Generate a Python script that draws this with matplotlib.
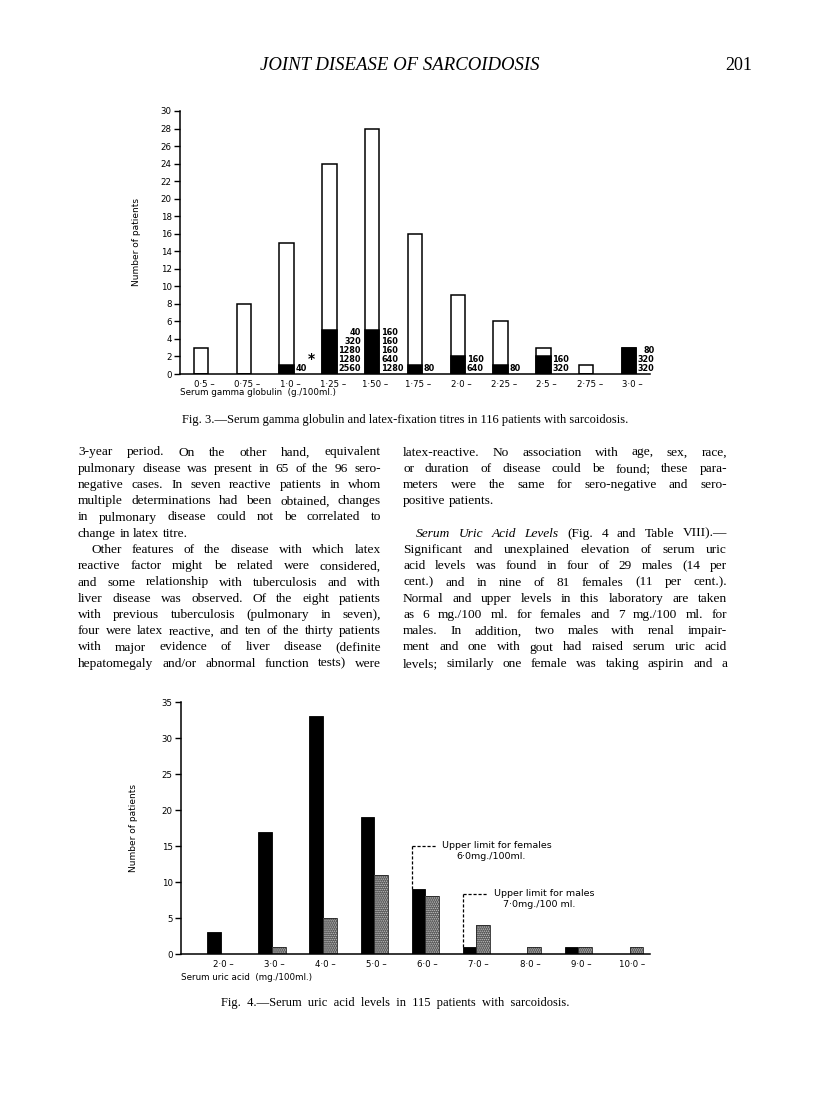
import matplotlib

matplotlib.use("Agg")
import matplotlib.pyplot as plt
from matplotlib.patches import Rectangle
from matplotlib.font_manager import FontProperties

W, H = 816, 1113

# Fig. 3 -- serum gamma globulin
gamma_bins = ["0·5 –", "0·75 –", "1·0 –", "1·25 –", "1·50 –", "1·75 –",
              "2·0 –", "2·25 –", "2·5 –", "2·75 –", "3·0 –"]
gamma_total = [3, 8, 15, 24, 28, 16, 9, 6, 3, 1, 3]
gamma_positive = [0, 0, 1, 5, 5, 1, 2, 1, 2, 0, 3]
gamma_titres = [[], [], ["40"], ["40", "320", "1280", "1280", "2560"],
                ["160", "160", "160", "640", "1280"], ["80"], ["160", "640"],
                ["80"], ["160", "320"], [], ["80", "320", "320"]]

# Fig. 4 -- serum uric acid
uric_bins = ["2·0 –", "3·0 –", "4·0 –", "5·0 –", "6·0 –", "7·0 –",
             "8·0 –", "9·0 –", "10·0 –"]
uric_female = [3, 17, 33, 19, 9, 1, 0, 1, 0]
uric_male = [0, 1, 5, 11, 8, 4, 1, 1, 1]
female_limit = "6·0 –"
male_limit = "7·0 –"

SANS = "DejaVu Sans"
SERIF = "Liberation Serif"
MALE_FILL = "#555555"
MALE_DOTS = "#c8c8c8"


def px_rect(x0, y0, x1, y1):
    return [x0 / W, 1 - y1 / H, (x1 - x0) / W, (y1 - y0) / H]


def style_axis(ax):
    for side in ("top", "right"):
        ax.spines[side].set_visible(False)
    for side in ("left", "bottom"):
        ax.spines[side].set_linewidth(1.1)
    ax.tick_params(axis="y", direction="out", length=4, width=1.0, pad=2,
                   labelsize=6.2)
    ax.tick_params(axis="x", length=0, pad=4, labelsize=6.2)
    for label in ax.get_xticklabels() + ax.get_yticklabels():
        label.set_family(SANS)


fig = plt.figure(figsize=(W / 100, H / 100), dpi=100)
page = fig.add_axes([0, 0, 1, 1])
page.set_xlim(0, W)
page.set_ylim(H, 0)
page.axis("off")

# ---------------- Fig. 3 ----------------
ax3 = fig.add_axes(px_rect(180, 111, 650, 374))
x3 = list(range(len(gamma_bins)))
w3 = 0.34
ax3.bar(x3, gamma_total, w3, color="white", edgecolor="black", linewidth=1.1)
ax3.bar(x3, gamma_positive, w3, color="black", edgecolor="black", linewidth=1.1)
ax3.set_xlim(-0.49, 10.49)
ax3.set_ylim(0, 30)
ax3.set_yticks(range(0, 31, 2))
ax3.set_xticks([x + 0.08 for x in x3])
ax3.set_xticklabels(gamma_bins)
style_axis(ax3)
ax3.set_ylabel("Number of patients", family=SANS, fontsize=6.5, labelpad=14)
ax3.set_xlabel("Serum gamma globulin  (g./100ml.)", family=SANS, fontsize=6.3)
ax3.xaxis.set_label_coords(0.0, -0.052)
ax3.xaxis.label.set_horizontalalignment("left")

right_aligned = {3, 8, 10}
for x, titres in zip(x3, gamma_titres):
    if not titres:
        continue
    ax3.text(x + w3 / 2 + 0.04, 0.12, "\n".join(titres), ha="left", va="bottom",
             multialignment="right" if x in right_aligned else "left",
             family=SANS, fontsize=5.9, fontweight="bold", linespacing=1.0)
ax3.text(2 + w3 / 2 + 0.42, 0.95, "*", ha="center", va="bottom", family=SANS,
         fontsize=10, fontweight="bold")

# legend of fig. 3
page.add_patch(Rectangle((492, 143), 15, 16, facecolor="black",
                         edgecolor="black", linewidth=1.0))
page.add_patch(Rectangle((492, 172), 15, 16, facecolor="white",
                         edgecolor="black", linewidth=1.0))
page.text(518, 151, "Patients with positive\nlatex fixation test", ha="left",
          va="center", family=SANS, fontsize=6.2, linespacing=0.95)
page.text(518, 181, "Patients with negative\nlatex fixation test", ha="left",
          va="center", family=SANS, fontsize=6.2, linespacing=0.95)
page.text(500, 210, "*", ha="center", va="center", family=SANS, fontsize=10,
          fontweight="bold")
page.text(518, 207, "Reciprocal of titre", ha="left", va="center",
          family=SANS, fontsize=6.2)

# ---------------- Fig. 4 ----------------
ax4 = fig.add_axes(px_rect(181, 702, 650, 954))
x4 = list(range(len(uric_bins)))
w4 = 0.266
male_x = [x + w4 / 2 for x in x4]
ax4.bar([x - w4 / 2 for x in x4], uric_female, w4, color="black",
        edgecolor="black", linewidth=0.6)
plt.rcParams["hatch.linewidth"] = 0.7
ax4.bar(male_x, uric_male, w4, facecolor=MALE_FILL, edgecolor=MALE_DOTS,
        hatch="........", linewidth=0)
ax4.bar(male_x, uric_male, w4, fill=False, edgecolor="#222222", linewidth=0.6)
ax4.set_xlim(-0.78, 8.40)
ax4.set_ylim(0, 35)
ax4.set_yticks(range(0, 36, 5))
ax4.set_xticks([x + 0.05 for x in x4])
ax4.set_xticklabels(uric_bins)
style_axis(ax4)
ax4.set_ylabel("Number of patients", family=SANS, fontsize=6.5, labelpad=17)
ax4.set_xlabel("Serum uric acid  (mg./100ml.)", family=SANS, fontsize=6.3)
ax4.xaxis.set_label_coords(0.0, -0.075)
ax4.xaxis.label.set_horizontalalignment("left")

# upper limit markers
for limit, top, head, line1, line2, dx2 in [
        (female_limit, 15.0, 0.48, "Upper limit for females", "6·0mg./100ml.", 1.55),
        (male_limit, 8.35, 0.50, "Upper limit for males", "7·0mg./100 ml.", 1.5)]:
    i = uric_bins.index(limit)
    xl = i - w4
    ax4.plot([xl, xl], [uric_female[i], top], color="black", lw=0.9,
             ls=(0, (2.5, 1.5)))
    ax4.plot([xl, xl + head], [top, top], color="black", lw=0.9,
             ls=(0, (2.5, 1.5)))
    ax4.text(xl + head + 0.12, top, line1, ha="left", va="center",
             family=SANS, fontsize=6.8)
    ax4.text(xl + dx2, top - 1.5, line2, ha="center", va="center",
             family=SANS, fontsize=6.8)

# legend of fig. 4
page.add_patch(Rectangle((463, 737), 16, 8, facecolor="black",
                         edgecolor="black", linewidth=0.6))
page.add_patch(Rectangle((463, 750), 16, 8, facecolor=MALE_FILL,
                         edgecolor=MALE_DOTS, hatch="........", linewidth=0))
page.text(486, 741, "Female patients", ha="left", va="center", family=SANS,
          fontsize=6.2)
page.text(486, 754, "Male patients", ha="left", va="center", family=SANS,
          fontsize=6.2)

# ---------------- page text ----------------
page.text(400, 66, "JOINT DISEASE OF SARCOIDOSIS", ha="center", va="center",
          family=SERIF, style="italic", fontsize=13.5)
page.text(752, 66, "201", ha="right", va="center", family=SERIF, fontsize=13)
page.text(405, 420, "Fig. 3.—Serum gamma globulin and latex-fixation titres in "
          "116 patients with sarcoidosis.", ha="center", va="center",
          family=SERIF, fontsize=9)
page.text(395, 1003, "Fig.  4.—Serum  uric  acid  levels  in  115  patients  "
          "with  sarcoidosis.", ha="center", va="center", family=SERIF,
          fontsize=9)

left_column = [
    ("3-year period.  On the other hand, equivalent", True, 0),
    ("pulmonary disease was present in 65 of the 96 sero-", True, 0),
    ("negative cases.  In seven reactive patients in whom", True, 0),
    ("multiple determinations had been obtained, changes", True, 0),
    ("in pulmonary disease could not be correlated to", True, 0),
    ("change in latex titre.", False, 0),
    ("Other features of the disease with which latex", True, 13),
    ("reactive factor might be related were considered,", True, 0),
    ("and some relationship with tuberculosis and with", True, 0),
    ("liver disease was observed.  Of the eight patients", True, 0),
    ("with previous tuberculosis (pulmonary in seven),", True, 0),
    ("four were latex reactive, and ten of the thirty patients", True, 0),
    ("with major evidence of liver disease (definite", True, 0),
    ("hepatomegaly and/or abnormal function tests) were", True, 0),
]
right_column = [
    ("latex-reactive.  No association with age, sex, race,", True, 0),
    ("or duration of disease could be found; these para-", True, 0),
    ("meters were the same for sero-negative and sero-", True, 0),
    ("positive patients.", False, 0),
    None,
    ("_Serum _Uric _Acid _Levels (Fig. 4 and Table VIII).—", True, 13),
    ("Significant and unexplained elevation of serum uric", True, 0),
    ("acid levels was found in four of 29 males (14 per", True, 0),
    ("cent.) and in nine of 81 females (11 per cent.).", True, 0),
    ("Normal and upper levels in this laboratory are taken", True, 0),
    ("as 6 mg./100 ml. for females and 7 mg./100 ml. for", True, 0),
    ("males.  In addition, two males with renal impair-", True, 0),
    ("ment and one with gout had raised serum uric acid", True, 0),
    ("levels; similarly one female was taking aspirin and a", True, 0),
]

renderer = fig.canvas.get_renderer()
body_size = 9.6
roman = FontProperties(family=SERIF, size=body_size)
italic = FontProperties(family=SERIF, size=body_size, style="italic")


def word_width(word, prop):
    width, _, _ = renderer.get_text_width_height_descent(word, prop, ismath=False)
    return width


def draw_column(lines, x0, x1, y0, step):
    space = word_width("a b", roman) - word_width("ab", roman)
    for row, entry in enumerate(lines):
        if entry is None:
            continue
        text, justify, indent = entry
        words = []
        for word in text.split():
            if word.startswith("_"):
                words.append((word[1:], italic))
            else:
                words.append((word, roman))
        widths = [word_width(word, prop) for word, prop in words]
        free = (x1 - x0 - indent) - sum(widths)
        gap = free / (len(words) - 1) if justify and len(words) > 1 else space
        x = x0 + indent
        y = y0 + row * step
        for (word, prop), width in zip(words, widths):
            page.text(x, y, word, ha="left", va="baseline", fontproperties=prop)
            x += width + gap


draw_column(left_column, 78, 381, 455.5, 16.25)
draw_column(right_column, 403, 727, 455.5, 16.25)

fig.savefig("out.png", dpi=100)
plt.close(fig)
